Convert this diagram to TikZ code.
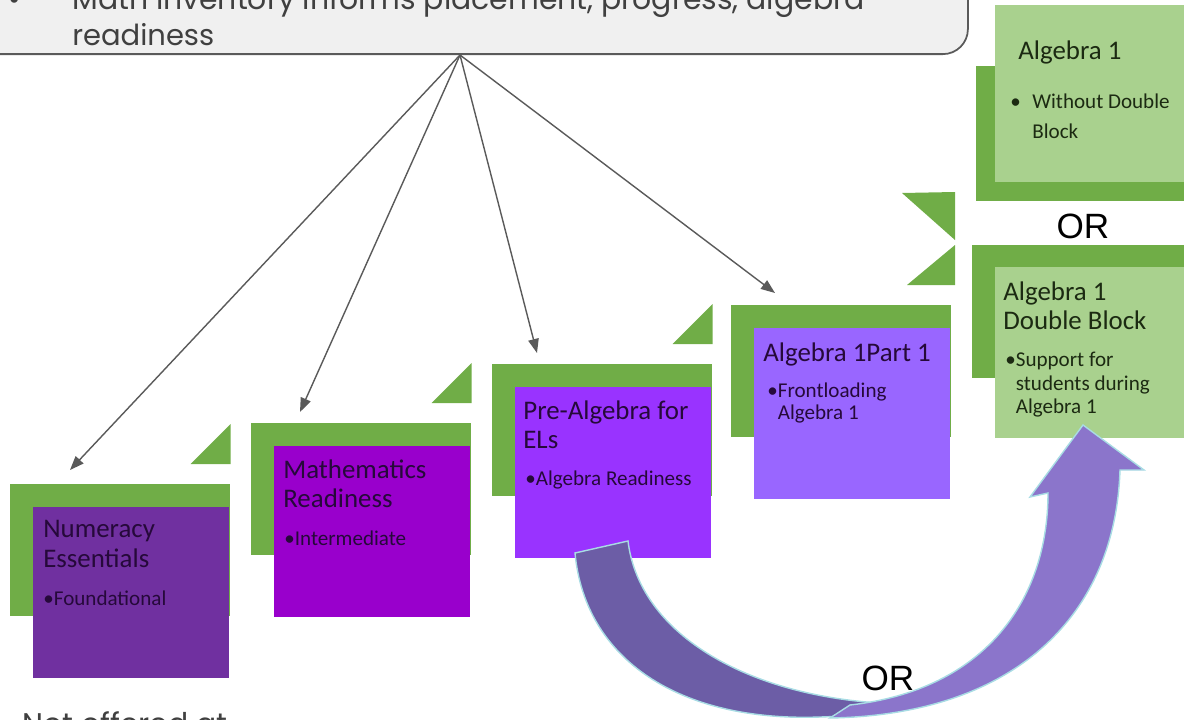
\documentclass[tikz,border=0pt]{standalone}
\usepackage{fontspec}
\setmainfont{Carlito}
\newfontfamily\slidefont{Poppins}
\newfontfamily\orfont{Liberation Sans}
\usepackage{tikz}
\usetikzlibrary{positioning, arrows.meta, calc}

\definecolor{grnD}{HTML}{70AD47}
\definecolor{grnL}{HTML}{A9D18E}
\definecolor{purA}{HTML}{7030A0}
\definecolor{purB}{HTML}{9900CC}
\definecolor{purC}{HTML}{9933FF}
\definecolor{purD}{HTML}{9966FF}
\definecolor{topF}{HTML}{F0F0F0}
\definecolor{lineG}{HTML}{5A5A5A}
\definecolor{bendL}{HTML}{6C5DA6}
\definecolor{bendR}{HTML}{8B75CB}
\definecolor{glowC}{HTML}{A8DCE4}
\definecolor{txtP}{HTML}{26093A}
\definecolor{txtG}{HTML}{1C2A12}

\begin{document}
\begin{tikzpicture}[x=0.02cm, y=-0.02cm,
    back/.style={fill=grnD, anchor=north west, inner sep=0pt,
                 minimum width=4.4cm, minimum height=2.64cm},
    front/.style={anchor=north west, inner sep=0pt,
                  minimum width=3.92cm, minimum height=3.42cm},
    head/.style={anchor=north west, inner sep=0pt, align=left,
                 font=\fontsize{15.3}{17}\selectfont, text=txtP},
    item/.style={anchor=north west, inner sep=0pt, align=left,
                 font=\fontsize{12}{12.5}\selectfont, text=txtP},
    link/.style={draw=lineG, line width=0.8pt, -{Triangle[length=8pt, width=6pt]}},
    orlbl/.style={font=\orfont\fontsize{20}{24}\selectfont},
    slide/.style={font=\slidefont\fontsize{17}{20}\selectfont, text=black!75, inner sep=0pt}
]
\useasboundingbox (0,0) rectangle (1184,720);
\clip (0,0) rectangle (1184,720);

% top call-out box (cut at the frame)
\node[fill=topF, draw=lineG, line width=1pt, rounded corners=0.5cm, anchor=south,
      minimum width=20.32cm, minimum height=3cm] (inv) at (460,55) {};
\node[slide, anchor=base] (invdot) at (15,10) {•};
\node[slide, anchor=base west] (invtop) at (72,10) {Math Inventory informs placement, progress, algebra};
\node[slide, anchor=base west, font=\slidefont\fontsize{16.5}{20}\selectfont] (invbot) at (72,45) {readiness};

% staircase: green back, purple front
\node[back] (g1) at (10,484) {};
\node[back] (g2) at (251,423) {};
\node[back] (g3) at (492,364) {};
\node[back] (g4) at (731,305) {};
\node[front, fill=purA] (ne) at (33,507) {};
\node[front, fill=purB] (mr) at (274,446) {};
\node[front, fill=purC] (pa) at (515,387) {};
\node[front, fill=purD] (ap) at (754,328) {};

% little green corner triangles
\foreach \g in {g1,g2,g3}
  \fill[grnD] ($(\g.north east)+(0,-20)$) -- ++(-40,0) -- ++(40,-40) -- cycle;
\fill[grnD] (902,193) -- (955,192) -- (955,240) -- cycle;
\fill[grnD] (907,285) -- (955,245) -- (955,285) -- cycle;

% texts in the steps
\node[head] (netitle) at (43,520) {Numeracy\\Essentials};
\node[item] (neitem) at (43,591) {•Foundational};
\node[head] (mrtitle) at (283,459) {Mathematics\\Readiness};
\node[item] (mritem) at (284,531) {•Intermediate};
\node[head] (patitle) at (523,400) {Pre-Algebra for\\ELs};
\node[item] (paitem) at (525,471) {•Algebra Readiness};
\node[head] (aptitle) at (763,342) {Algebra 1Part 1};
\node[item] (apitem) at (767,383) {•Frontloading\\\phantom{•}Algebra 1};

% right column: the two Algebra 1 choices
\node[fill=grnD, anchor=north west, inner sep=0pt, minimum width=4.5cm, minimum height=2.7cm] (a1back) at (976,66) {};
\node[fill=grnL, anchor=north west, inner sep=0pt, minimum width=4.2cm, minimum height=3.54cm] (a1) at (995,5) {};
\node[fill=grnD, anchor=north west, inner sep=0pt, minimum width=4.6cm, minimum height=2.66cm] (dbback) at (972,245) {};
\node[fill=grnL, anchor=north west, inner sep=0pt, minimum width=4.2cm, minimum height=3.42cm] (db) at (995,267) {};

\node[head, text=txtG] (a1title) at (1018,40) {Algebra 1};
\node[item, text=txtG, font=\fontsize{12}{17}\selectfont] (a1item) at (1010,94)
  {\makebox[0.44cm][l]{•}Without Double\\\hspace*{0.44cm}Block};
\node[head, text=txtG] (dbtitle) at (1003,281) {Algebra 1\\Double Block};
\node[item, text=txtG, font=\fontsize{12}{13.3}\selectfont] (dbitem) at (1005,352)
  {•Support for\\\phantom{•}students during\\\phantom{•}Algebra 1};

\node[orlbl] (ortop) at (1083,226) {OR};

% arrows from the call-out down to each step
\coordinate (t1) at ($(g1.north west)+(60,-14)$);
\coordinate (t2) at ($(g2.north west)+(49,-11)$);
\coordinate (t3) at ($(g3.north west)+(45,-11)$);
\coordinate (t4) at ($(g4.north west)+(44,-12)$);
\foreach \t in {t1,t2,t3,t4}
  \draw[link] (inv.south) -- (\t);

% big curved jump arrow
\filldraw[fill=bendL, draw=glowC, line width=0.8pt]
  (575,553) .. controls (585,660) and (680,722) .. (820,717)
  .. controls (860,716) and (885,710) .. (905,704)
  .. controls (760,702) and (640,640) .. (628,541) -- cycle;
\filldraw[fill=bendR, draw=glowC, line width=0.8pt]
  (830,718) .. controls (1010,715) and (1115,620) .. (1120,470)
  -- (1144,470) -- (1083,425) -- (1030,497) -- (1048,493)
  .. controls (1048,600) and (985,690) .. (850,705) -- cycle;

\node[orlbl] (orbot) at (888,678) {OR};

% cut-off line at the bottom
\node[slide, anchor=base west] (notoff) at (22,734) {Not offered at};

\end{tikzpicture}
\end{document}
